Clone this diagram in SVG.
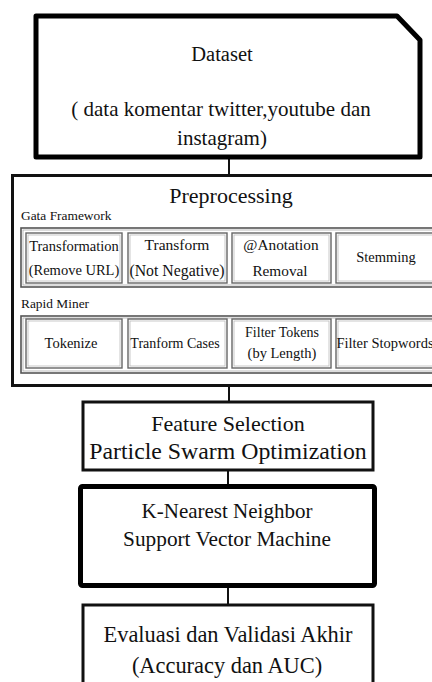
<svg xmlns="http://www.w3.org/2000/svg" width="432" height="682" viewBox="0 0 432 682">
<style>
text{fill:#111;text-anchor:middle}
.thick{fill:#fff;stroke:#000;stroke-width:5}
.med{fill:#fff;stroke:#111;stroke-width:3}
.grp{fill:none;stroke:#555;stroke-width:1.6}
.grpi{fill:none;stroke:#aaa;stroke-width:0.8}
.sub{fill:#fff;stroke:#666;stroke-width:1.4}
.subi{fill:none;stroke:#bbb;stroke-width:0.8}
.lbl{text-anchor:start;font-size:13.4px}
.s{font-size:14.5px}
.conn{stroke:#111;stroke-width:2;fill:none}
</style>
<g id="connectors">
<line class="conn" x1="229" y1="158" x2="229" y2="176"/>
<line class="conn" x1="229" y1="386" x2="229" y2="402"/>
<line class="conn" x1="228" y1="470" x2="228" y2="486"/>
<line class="conn" x1="228" y1="586" x2="228" y2="605"/>
</g>
<g font-family="Liberation Serif, serif">
<g id="dataset">
<path class="thick" d="M36 16 H397 L420 40 V157 H36 Z" stroke-linejoin="round"/>
<text x="222" y="61" font-size="20.5px">Dataset</text>
<text x="221" y="116" font-size="21px">( data komentar twitter,youtube dan</text>
<text x="222" y="145" font-size="21px">instagram)</text>
</g>
<g id="preprocessing">
<rect class="med" x="12.5" y="175.5" width="430" height="210"/>
<text x="231" y="203" font-size="22px">Preprocessing</text>
<text class="lbl" x="21" y="220">Gata Framework</text>
<rect class="grp" x="21" y="228" width="420" height="59"/>
<rect class="grpi" x="23" y="230" width="416" height="55"/>
<g id="transformation">
<rect class="sub" x="26" y="233" width="96" height="50"/>
<rect class="subi" x="28" y="235" width="92" height="46"/>
<text class="s" x="74" y="251" font-size="14.2px">Transformation</text>
<text class="s" x="74" y="275">(Remove URL)</text>
</g>
<g id="transform-not-negative">
<rect class="sub" x="128" y="233" width="99" height="50"/>
<rect class="subi" x="130" y="235" width="95" height="46"/>
<text x="177" y="250" font-size="15.5px">Transform</text>
<text x="177" y="276" font-size="15.8px">(Not Negative)</text>
</g>
<g id="anotation-removal">
<rect class="sub" x="232" y="233" width="99" height="50"/>
<rect class="subi" x="234" y="235" width="95" height="46"/>
<text x="281" y="250" font-size="15.3px">@Anotation</text>
<text x="280" y="276" font-size="15.3px">Removal</text>
</g>
<g id="stemming">
<rect class="sub" x="336" y="233" width="100" height="50"/>
<rect class="subi" x="338" y="235" width="96" height="46"/>
<text class="s" x="386" y="262">Stemming</text>
</g>
<text class="lbl" x="21" y="308">Rapid Miner</text>
<rect class="grp" x="21" y="316" width="420" height="57"/>
<rect class="grpi" x="23" y="318" width="416" height="53"/>
<g id="tokenize">
<rect class="sub" x="26" y="319" width="96" height="49"/>
<rect class="subi" x="28" y="321" width="92" height="45"/>
<text x="71" y="348" font-size="14.5px">Tokenize</text>
</g>
<g id="tranform-cases">
<rect class="sub" x="128" y="319" width="99" height="49"/>
<rect class="subi" x="130" y="321" width="95" height="45"/>
<text x="175" y="348" font-size="14px">Tranform Cases</text>
</g>
<g id="filter-tokens">
<rect class="sub" x="232" y="319" width="99" height="49"/>
<rect class="subi" x="234" y="321" width="95" height="45"/>
<text x="282" y="337" font-size="14px">Filter Tokens</text>
<text x="282" y="358" font-size="14.5px">(by Length)</text>
</g>
<g id="filter-stopwords">
<rect class="sub" x="336" y="319" width="100" height="49"/>
<rect class="subi" x="338" y="321" width="96" height="45"/>
<text class="s" x="385" y="348">Filter Stopwords</text>
</g>
</g>
<g id="feature-selection">
<rect class="med" x="83" y="402" width="290" height="68"/>
<text x="228" y="431" font-size="22px">Feature Selection</text>
<text x="228" y="459" font-size="23.8px">Particle Swarm Optimization</text>
</g>
<g id="classifier">
<rect class="thick" x="80.5" y="486.5" width="294" height="99" rx="2"/>
<text x="227" y="518" font-size="21px">K-Nearest Neighbor</text>
<text x="227" y="546" font-size="21.3px">Support Vector Machine</text>
</g>
<g id="evaluasi">
<rect class="med" x="83" y="605" width="290" height="90"/>
<text x="228" y="642" font-size="22.4px">Evaluasi dan Validasi Akhir</text>
<text x="227" y="673" font-size="22.4px">(Accuracy dan AUC)</text>
</g>
</g>
</svg>
